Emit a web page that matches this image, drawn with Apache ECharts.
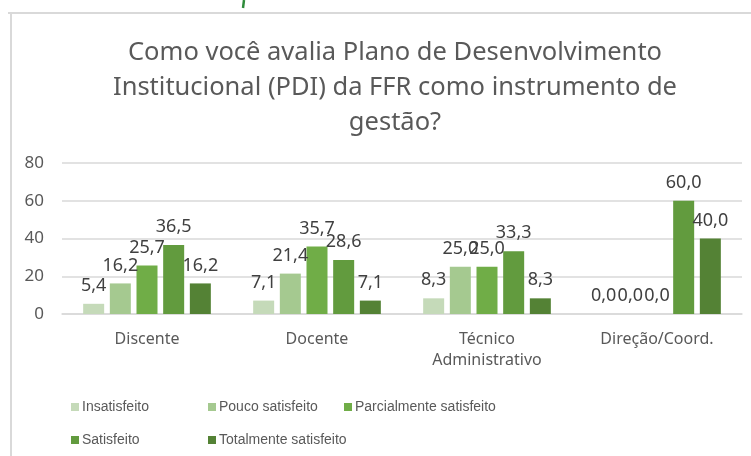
<!DOCTYPE html>
<html>
<head>
<meta charset="utf-8">
<script src="https://cdn.jsdelivr.net/npm/echarts@6/dist/echarts.min.js"></script>
<style>
  html, body { margin: 0; padding: 0; background: #fff; }
  #chart { width: 751px; height: 456px; }
</style>
</head>
<body>
<div id="chart"></div>
<script>
var categories = ['Discente', 'Docente', 'Técnico\nAdministrativo', 'Direção/Coord.'];
var seriesNames = ['Insatisfeito', 'Pouco satisfeito', 'Parcialmente satisfeito', 'Satisfeito', 'Totalmente satisfeito'];
var insatisfeito = [5.4, 7.1, 8.3, 0.0];
var poucoSatisfeito = [16.2, 21.4, 25.0, 0.0];
var parcialmente = [25.7, 35.7, 25.0, 0.0];
var satisfeito = [36.5, 28.6, 33.3, 60.0];
var totalmente = [16.2, 7.1, 8.3, 40.0];
var yTicks = [0, 20, 40, 60, 80];

var colors = ['#c5dab9', '#a5c990', '#70ad47', '#629b3e', '#548235'];
var values = [insatisfeito, poucoSatisfeito, parcialmente, satisfeito, totalmente];

var textColor = '#595959';
var font = '"Noto Sans", sans-serif';
var narrow = '"Liberation Sans", sans-serif';

var series = seriesNames.map(function (name, i) {
  return {
    name: name,
    type: 'bar',
    data: values[i],
    barWidth: 21,
    barGap: '27%',
    itemStyle: { color: colors[i] },
    label: {
      show: true,
      position: 'top',
      distance: 9,
      color: '#404040',
      fontSize: 18,
      fontFamily: font,
      formatter: function (p) {
        return p.value.toFixed(1).replace('.', ',');
      }
    }
  };
});

// legend positions: one small legend per item, laid out in two rows
var legendPos = [
  [66, 395], [203, 395], [339, 395],
  [66, 428], [203, 428]
];
var legends = seriesNames.map(function (name, i) {
  return {
    data: [name],
    left: legendPos[i][0],
    top: legendPos[i][1],
    icon: 'rect',
    itemWidth: 8,
    itemHeight: 8,
    itemGap: 0,
    textStyle: { color: textColor, fontSize: 14, fontFamily: narrow, padding: [0, 0, 0, -2] }
  };
});

var chart = echarts.init(document.getElementById('chart'));
chart.setOption({
  backgroundColor: '#fff',
  animation: false,
  title: {
    text: 'Como você avalia Plano de Desenvolvimento\nInstitucional (PDI) da FFR como instrumento de\ngestão?',
    left: 390,
    top: 30,
    textAlign: 'center',
    textStyle: {
      color: textColor,
      fontSize: 25.5,
      fontWeight: 'normal',
      fontFamily: font,
      lineHeight: 35
    }
  },
  legend: legends,
  grid: {
    left: 62,
    right: 9,
    top: 163,
    bottom: 142,
    outerBoundsMode: 'none'
  },
  xAxis: {
    type: 'category',
    data: categories,
    axisTick: { show: false },
    axisLine: { lineStyle: { color: '#d9d9d9', width: 1.5 } },
    axisLabel: {
      color: textColor,
      fontSize: 16,
      fontFamily: font,
      margin: 15,
      lineHeight: 21
    }
  },
  yAxis: {
    type: 'value',
    min: yTicks[0],
    max: yTicks[yTicks.length - 1],
    interval: 20,
    axisLine: { show: false },
    axisTick: { show: false },
    splitLine: { lineStyle: { color: '#d9d9d9', width: 1.5 } },
    axisLabel: {
      color: textColor,
      fontSize: 17,
      fontFamily: font,
      margin: 18
    }
  },
  graphic: [
    {
      type: 'line',
      shape: { x1: 8, y1: 13, x2: 751, y2: 13 },
      style: { stroke: '#d9d9d9', lineWidth: 2 }
    },
    {
      type: 'line',
      shape: { x1: 11, y1: 13, x2: 11, y2: 456 },
      style: { stroke: '#d9d9d9', lineWidth: 2 }
    },
    {
      type: 'line',
      shape: { x1: 244, y1: 0, x2: 243, y2: 8 },
      style: { stroke: '#2e8b3a', lineWidth: 2.5 }
    }
  ],
  series: series
});
</script>
</body>
</html>
